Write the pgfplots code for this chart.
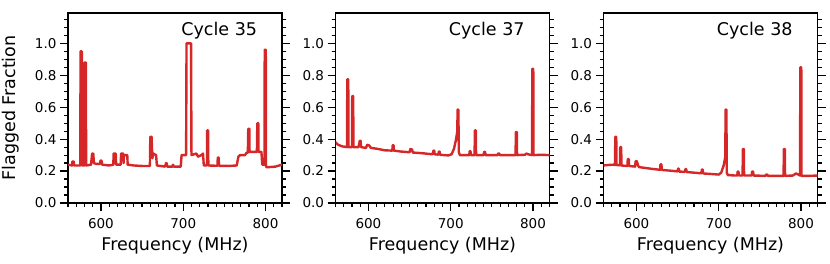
\documentclass[border=0pt]{standalone}
\usepackage{fontspec}
\setmainfont{DejaVu Sans}
\usepackage{pgfplots}
\pgfplotsset{compat=1.18}
\definecolor{tabred}{RGB}{214,39,40}
\pgfplotsset{
  panel/.style={
    scale only axis, width=214pt, height=190pt, anchor=south west,
    xmin=560, xmax=820, ymin=0, ymax=1.19,
    xtick={600,700,800},
    minor xtick={560,570,580,590,610,620,630,640,650,660,670,680,690,710,720,730,740,750,760,770,780,790,810,820},
    ytick={0,0.2,0.4,0.6,0.8,1.0},
    minor ytick={0.05,0.1,0.15,0.25,0.3,0.35,0.45,0.5,0.55,0.65,0.7,0.75,0.85,0.9,0.95,1.05,1.1,1.15},
    tick align=outside, xtick pos=left, ytick pos=both,
    major tick length=8pt, minor tick length=4pt,
    every tick/.style={black, line width=1.2pt},
    axis line style={black, line width=1.3pt},
    /pgf/number format/assume math mode=true,
    ticklabel style={font=\fontsize{13.5}{15}\selectfont},
    yticklabel style={/pgf/number format/.cd, fixed, fixed zerofill, precision=1},
    xticklabel style={yshift=-4pt, /pgf/number format/.cd, fixed, precision=0},
    label style={font=\fontsize{17.5}{20}\selectfont},
    xlabel={Frequency (MHz)},
    xlabel style={at={(axis description cs:0.5,-0.222)}, anchor=center},
    every axis plot post/.append style={color=tabred, mark=none, line width=2.4pt, line join=round, line cap=round},
  }
}
\begin{document}
\begin{tikzpicture}
\useasboundingbox (0,0) rectangle (830pt,263pt);
% ---------------- Cycle 35 ----------------
\begin{axis}[panel, at={(68pt,60pt)}, ylabel={Flagged Fraction},
  ylabel style={at={(axis description cs:-0.268,0.5)}, anchor=center}]
\addplot coordinates {
(560,0.24) (565,0.235) (565.3,0.26) (567,0.26) (567.3,0.235) (575,0.235)
(575.2,0.95) (576.8,0.95) (577,0.235) (580,0.235) (580.2,0.88) (581.8,0.88) (582,0.235)
(588,0.24) (589.3,0.31) (590.7,0.31) (591.5,0.25) (594,0.245) (599,0.245) (599.3,0.265) (600.8,0.265) (601.5,0.24)
(610,0.235) (615,0.24) (615.5,0.31) (618,0.31) (618.5,0.24) (624,0.24) (624.5,0.31) (627,0.31) (627.5,0.25)
(628,0.30) (632,0.30) (632.5,0.24) (640,0.235) (650,0.232) (659.5,0.232) (660,0.415) (661.5,0.415) (662.5,0.28)
(663.5,0.31) (667,0.30) (668,0.235) (678,0.228) (679,0.25) (680,0.25) (680.5,0.228)
(687,0.228) (687.5,0.24) (688.5,0.228) (697,0.228) (698,0.30) (701,0.30) (703.5,0.30)
(704,1.0) (709.5,1.0) (710,0.30) (716,0.31) (718,0.29) (722,0.30) (724,0.31) (725,0.235)
(728.8,0.235) (729,0.455) (730.2,0.455) (730.5,0.235) (741.5,0.233) (742,0.285) (743,0.285) (743.5,0.233)
(755,0.232) (765,0.235) (767,0.29) (769,0.30) (775,0.30) (777,0.315) (778.5,0.315) (779,0.465) (780.3,0.465) (780.6,0.32)
(785,0.32) (789.5,0.32) (790,0.50) (791.2,0.50) (791.5,0.32) (795,0.32) (796,0.24) (798.8,0.24)
(799,0.96) (800.3,0.96) (800.6,0.225) (805,0.225) (812,0.228) (820,0.24)
};
\node[anchor=east, font=\fontsize{17.5}{20}\selectfont] at (axis description cs:0.9,0.905) {Cycle 35};
\end{axis}
% ---------------- Cycle 37 ----------------
\begin{axis}[panel, at={(335.5pt,60pt)}]
\addplot coordinates {
(560,0.38) (563,0.365) (568,0.355) (574,0.35) (574.3,0.775) (575.5,0.775) (575.8,0.35)
(580,0.35) (580.3,0.67) (581.5,0.67) (581.8,0.35) (588,0.35) (589.5,0.39) (590.5,0.39) (591,0.35)
(597,0.345) (598.5,0.365) (601,0.36) (603,0.345) (610,0.34) (620,0.33) (629,0.328) (629.5,0.362) (630.5,0.362) (631,0.328)
(640,0.322) (650,0.318) (651,0.338) (653,0.335) (654,0.316) (665,0.312) (678,0.305) (679,0.328) (680,0.328) (680.5,0.305)
(685,0.303) (685.5,0.322) (686.5,0.322) (687,0.302) (697,0.298) (701,0.305) (704,0.34) (706.5,0.40) (708,0.45)
(708.3,0.585) (709.3,0.585) (709.8,0.32) (711,0.30) (720,0.30) (722.5,0.30) (723,0.325) (724,0.325) (724.5,0.30)
(729,0.30) (729.3,0.455) (730.5,0.455) (730.8,0.30) (740,0.30) (740.5,0.32) (741.8,0.32) (742.3,0.30)
(757,0.30) (757.5,0.31) (759,0.31) (759.5,0.30) (778.8,0.30) (779.1,0.445) (780.3,0.445) (780.6,0.30)
(790,0.302) (792,0.31) (794,0.305) (798.8,0.30) (799.1,0.84) (800.3,0.84) (800.6,0.30) (810,0.302) (820,0.30)
};
\node[anchor=east, font=\fontsize{17.5}{20}\selectfont] at (axis description cs:0.9,0.905) {Cycle 37};
\end{axis}
% ---------------- Cycle 38 ----------------
\begin{axis}[panel, at={(603.5pt,60pt)}]
\addplot coordinates {
(560,0.235) (565,0.238) (572,0.24) (574,0.238) (574.3,0.415) (575.5,0.415) (575.8,0.238)
(580,0.236) (580.3,0.35) (581.5,0.35) (581.8,0.235) (589,0.232) (589.5,0.275) (590.7,0.275) (591,0.232)
(598.5,0.228) (599,0.262) (600.5,0.262) (602,0.235) (603,0.225) (610,0.22) (620,0.213) (628.8,0.208) (629.2,0.242) (630.4,0.242) (630.8,0.207)
(640,0.203) (650,0.198) (650.5,0.215) (651.5,0.215) (652,0.197) (659,0.195) (659.5,0.212) (660.5,0.212) (661,0.194)
(670,0.19) (679,0.186) (679.5,0.21) (680.5,0.21) (681,0.185) (690,0.182) (700,0.178) (703,0.19) (706,0.235) (708,0.29)
(708.3,0.585) (709.3,0.585) (709.8,0.19) (711,0.175) (720,0.172) (722.5,0.172) (723,0.197) (724,0.197) (724.5,0.172)
(729,0.172) (729.3,0.338) (730.5,0.338) (730.8,0.172) (740,0.172) (740.5,0.197) (741.8,0.197) (742.3,0.172)
(757,0.17) (757.5,0.178) (759,0.178) (759.5,0.17) (778.8,0.17) (779.1,0.338) (780.3,0.338) (780.6,0.17)
(790,0.172) (794,0.185) (796,0.18) (798.8,0.172) (799.1,0.85) (800.3,0.85) (800.6,0.17) (810,0.17) (820,0.172)
};
\node[anchor=east, font=\fontsize{17.5}{20}\selectfont] at (axis description cs:0.9,0.905) {Cycle 38};
\end{axis}
\end{tikzpicture}
\end{document}
